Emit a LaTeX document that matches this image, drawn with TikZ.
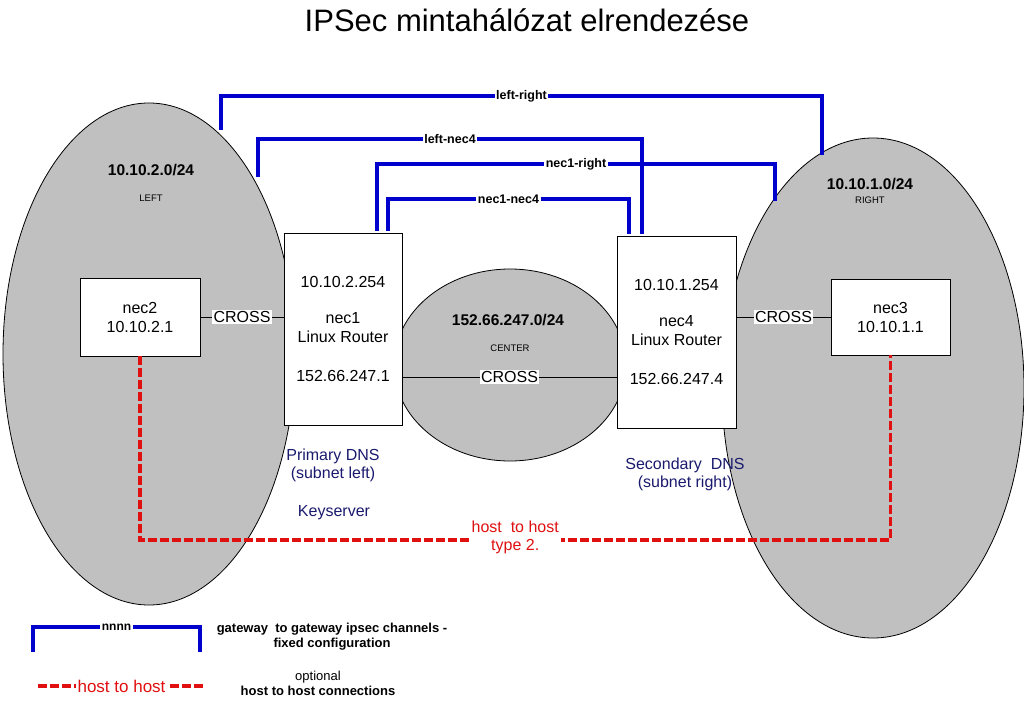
\documentclass[tikz,border=0pt]{standalone}
\usepackage{fontspec}
\setmainfont{Liberation Sans}
\usetikzlibrary{positioning, shapes.geometric}
\definecolor{langray}{HTML}{C0C0C0}
\definecolor{chanblue}{HTML}{0000CC}
\definecolor{dnsnavy}{HTML}{1A1A6E}
\definecolor{hostred}{HTML}{E01010}
\tikzset{
    lan/.style={ellipse, draw=black, line width=0.8pt, fill=langray, inner sep=0pt}, % subnets
    box/.style={rectangle, draw=black, line width=0.8pt, fill=white, align=center,
        inner sep=0pt, font=\fontsize{16}{19}\selectfont}, % hosts and routers
    netlabel/.style={font=\bfseries\fontsize{15.5}{18}\selectfont},
    zonelabel/.style={font=\fontsize{9.5}{11}\selectfont},
    link/.style={draw=black, line width=0.8pt}, % crossover cables
    crosslabel/.style={fill=white, inner sep=1.5pt, font=\fontsize{16}{19}\selectfont},
    chan/.style={draw=chanblue, line width=4pt}, % ipsec channels
    chanlabel/.style={fill=white, inner sep=1.5pt, font=\bfseries\fontsize{12.5}{14}\selectfont},
    hostlink/.style={draw=hostred, line width=3.5pt, dash pattern=on 9pt off 3pt},
    hostlabel/.style={fill=white, text=hostred, align=center, inner sep=2pt,
        font=\fontsize{16}{18}\selectfont},
    dns/.style={text=dnsnavy, align=center, font=\fontsize{16}{18}\selectfont},
    keytext/.style={align=center, font=\bfseries\fontsize{13}{15}\selectfont},
}

\begin{document}
\begin{tikzpicture}[x=1pt, y=-1pt]
    \useasboundingbox (0,0) rectangle (1024,703);

    % title
    \node[font=\fontsize{31}{36}\selectfont] (title) at (527,20) {IPSec mintahálózat elrendezése};

    % subnets
    \node[lan, minimum width=292pt, minimum height=502pt] (left) at (149,354) {};
    \node[lan, minimum width=302pt, minimum height=500pt] (right) at (873,388) {};
    \node[lan, minimum width=232pt, minimum height=192pt] (center) at (510,365) {};

    \node[netlabel] (leftnet) at (151,170) {10.10.2.0/24};
    \node[zonelabel] (leftzone) at (151,198) {LEFT};
    \node[netlabel] (rightnet) at (870,184) {10.10.1.0/24};
    \node[zonelabel] (rightzone) at (870,200) {RIGHT};
    \node[netlabel] (centernet) at (508,320) {152.66.247.0/24};
    \node[zonelabel] (centerzone) at (510,348) {CENTER};

    % machines
    \node[box, minimum width=120pt, minimum height=78pt] (nec2) at (140,317) {nec2\\10.10.2.1};
    \node[box, minimum width=118pt, minimum height=192pt] (nec1) at (343,329)
        {10.10.2.254\\[17pt] nec1\\ Linux Router\\[20pt] 152.66.247.1};
    \node[box, minimum width=119pt, minimum height=192pt] (nec4) at (676.5,332)
        {10.10.1.254\\[17pt] nec4\\ Linux Router\\[20pt] 152.66.247.4};
    \node[box, minimum width=119pt, minimum height=76pt] (nec3) at (890.5,317) {nec3\\10.10.1.1};

    % cables
    \draw[link] (nec2.east) -- node[crosslabel]{CROSS} (nec2.east -| nec1.west);
    \draw[link] (nec4.east |- nec3.west) -- node[crosslabel]{CROSS} (nec3.west);
    \draw[link] ([yshift=-48pt]nec1.east) -- node[crosslabel]{CROSS} ([yshift=-48pt]nec1.east -| nec4.west);

    % ipsec channels
    \coordinate (lrL) at (221,130);
    \coordinate (lrR) at (822,155);
    \coordinate (lnL) at (258,177);
    \coordinate (nrR) at (775,201);
    \draw[chan] (lrL) -- (lrL |- 0,96) -- node[chanlabel]{left-right} (lrR |- 0,96) -- (lrR);
    \draw[chan] (lnL) -- (lnL |- 0,139) -- node[chanlabel]{left-nec4}
        ([xshift=-34.5pt]nec4.north |- 0,139) -- ([xshift=-34.5pt,yshift=2pt]nec4.north);
    \draw[chan] ([xshift=34pt,yshift=2pt]nec1.north) -- ([xshift=34pt]nec1.north |- 0,164)
        -- node[chanlabel]{nec1-right} (nrR |- 0,164) -- (nrR);
    \draw[chan] ([xshift=45pt,yshift=2pt]nec1.north) -- ([xshift=45pt]nec1.north |- 0,199)
        -- node[chanlabel]{nec1-nec4} ([xshift=-47.5pt]nec4.north |- 0,199)
        -- ([xshift=-47.5pt,yshift=2pt]nec4.north);

    % dns roles
    \node[dns] (dns1) at (333,465) {Primary DNS\\(subnet left)};
    \node[dns] (keysrv) at (334,513) {Keyserver};
    \node[dns] (dns4) at (685,474) {Secondary\ \ DNS\\(subnet right)};

    % host to host
    \draw[hostlink] (nec2.south) -- (nec2.south |- 0,540)
        -- node[hostlabel, yshift=3pt]{host\ \ to host\\type 2.} (nec3.south |- 0,540) -- (nec3.south);

    % legend
    \coordinate (keyA) at (33,652);
    \coordinate (keyB) at (200,652);
    \coordinate (keyC) at (38,686);
    \coordinate (keyD) at (205,686);
    \draw[chan] (keyA) -- (keyA |- 0,627) -- node[chanlabel, font=\bfseries\fontsize{12}{14}\selectfont]{nnnn}
        (keyB |- 0,627) -- (keyB);
    \draw[hostlink] (keyC) -- node[hostlabel, font=\fontsize{17}{20}\selectfont]{host to host} (keyD);
    \node[keytext] (keychan) at (332,637) {gateway\ \ to gateway ipsec channels -\\fixed configuration};
    \node[keytext] (keyhost) at (318,683) {{\mdseries optional}\\host to host connections};
\end{tikzpicture}
\end{document}
